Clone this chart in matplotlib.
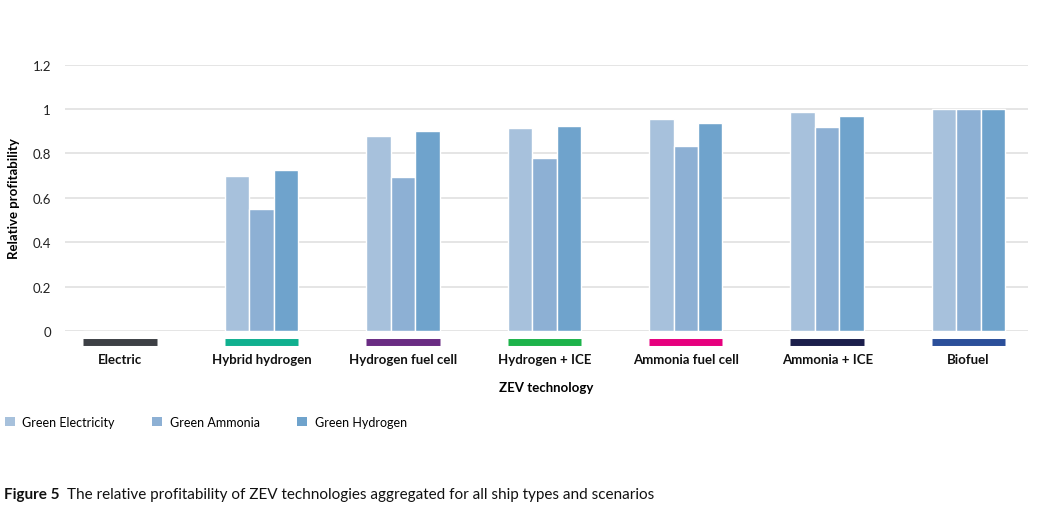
import numpy as np
import matplotlib
matplotlib.use('Agg')
import matplotlib.pyplot as plt
from matplotlib.patches import Patch

plt.rcParams['font.family'] = ['Lato', 'DejaVu Sans']

categories = ['Electric', 'Hybrid hydrogen', 'Hydrogen fuel cell', 'Hydrogen + ICE',
              'Ammonia fuel cell', 'Ammonia + ICE', 'Biofuel']
green_electricity = [0, 0.70, 0.88, 0.913, 0.956, 0.985, 0.998]
green_ammonia = [0, 0.548, 0.692, 0.781, 0.832, 0.920, 0.998]
green_hydrogen = [0, 0.725, 0.902, 0.922, 0.938, 0.968, 0.998]
series_names = ['Green Electricity', 'Green Ammonia', 'Green Hydrogen']
series_colors = ['#a7c1dc', '#8db0d4', '#6fa3cc']
category_colors = ['#3d4045', '#10b08f', '#6a2c83', '#1db34a', '#e6007e', '#1c1f4c', '#2b4f9a']
yticks = [0, 0.2, 0.4, 0.6, 0.8, 1, 1.2]
ytick_labels = ['0', '0.2', '0.4', '0.6', '0.8', '1', '1.2']

fig = plt.figure(figsize=(10.46, 5.1), dpi=100)
ax = fig.add_axes([0.0621, 0.349, 0.9207, 0.5224])

x = np.arange(len(categories))
w = 0.173
for i, vals in enumerate([green_electricity, green_ammonia, green_hydrogen]):
    ax.bar(x + (i - 1) * w, vals, width=w, color=series_colors[i],
           edgecolor='white', linewidth=1, zorder=3)

# coloured bars under each category
for i, c in enumerate(category_colors):
    ax.plot([x[i] - 1.5 * w, x[i] + 1.5 * w], [-0.05, -0.05], color=c,
            lw=5, solid_capstyle='butt', clip_on=False)

ax.set_xlim(-0.39, 6.42)
ax.set_ylim(0, 1.2)
ax.set_yticks(yticks)
ax.set_yticklabels(ytick_labels, fontsize=9.5, color='#222222')
ax.set_xticks(x)
ax.set_xticklabels(categories, fontsize=9.5, weight='bold', color='#111111')
ax.tick_params(axis='x', length=0, pad=16)
ax.tick_params(axis='y', length=0, pad=10)
ax.grid(axis='y', color='#e3e3e3', lw=1.3, zorder=0)
ax.set_axisbelow(True)
for s in ax.spines.values():
    s.set_visible(False)

ax.set_ylabel('Relative profitability', fontsize=9.5, weight='bold')
ax.yaxis.set_label_coords(-0.047, 0.5)
ax.set_xlabel('ZEV technology', fontsize=9.5, weight='bold', labelpad=11)

handles = [Patch(facecolor=c, edgecolor='none') for c in series_colors]
fig.legend(handles, series_names, loc='upper left', bbox_to_anchor=(-0.006, 0.205),
           ncol=3, frameon=False, fontsize=9, handlelength=0.8, handleheight=0.8,
           handletextpad=0.6, columnspacing=3.0)

t1 = fig.text(0.004, 0.022, 'Figure 5', fontsize=11, weight='bold', color='#111111')
fig.canvas.draw()
bb = t1.get_window_extent().transformed(fig.transFigure.inverted())
fig.text(bb.x1 + 0.007, 0.022, 'The relative profitability of ZEV technologies aggregated for all ship types and scenarios',
         fontsize=11, color='#111111')

fig.savefig('out.png', dpi=100)
